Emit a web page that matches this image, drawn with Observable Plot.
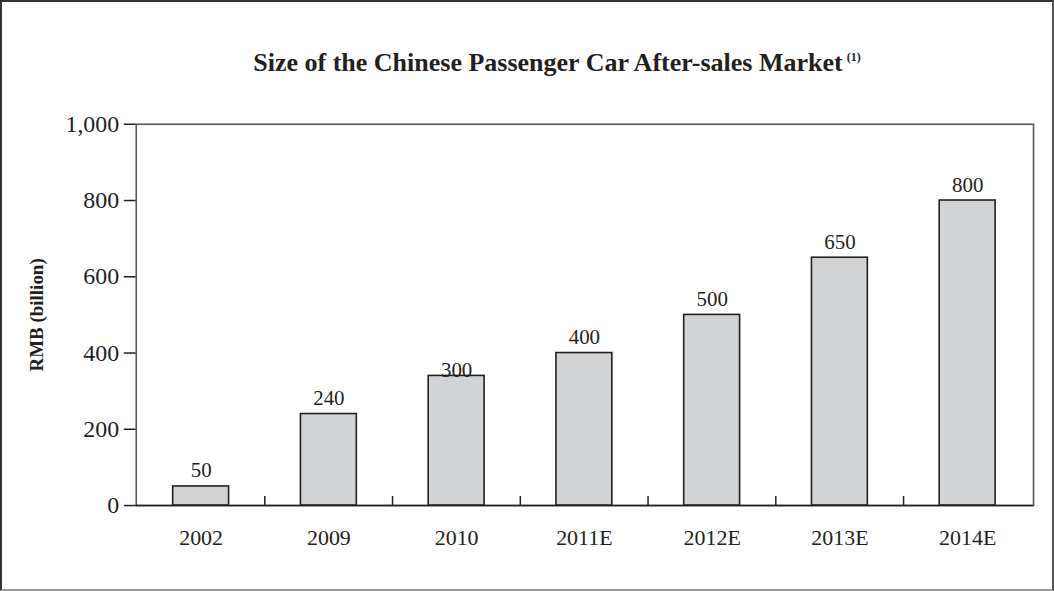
<!DOCTYPE html>
<html>
<head>
<meta charset="utf-8">
<script src="https://cdn.jsdelivr.net/npm/d3@7"></script>
<script src="https://cdn.jsdelivr.net/npm/@observablehq/plot@0.6"></script>
<style>
  html, body { margin: 0; padding: 0; background: #fff; }
  #wrap {
    position: relative; width: 1054px; height: 591px; box-sizing: border-box;
    border: 2px solid #333; border-bottom-color: #999; border-right-color: #555;
    font-family: "Liberation Serif", "Times New Roman", serif; color: #231f20;
  }
  #title {
    position: absolute; left: 0; top: 40px; width: 1054px; text-align: center;
    padding-left: 56px; box-sizing: border-box;
    font-weight: bold; font-size: 26px; white-space: nowrap; line-height: 30px;
  }
  #title sup { font-size: 12px; vertical-align: 10px; margin-left: 4px; }
  #chart { position: absolute; left: -2px; top: -2px; }
</style>
</head>
<body>
<div id="wrap">
  <div id="title">Size of the Chinese Passenger Car After-sales Market<sup>(1)</sup></div>
  <div id="chart"></div>
</div>
<script>
const categories = ["2002", "2009", "2010", "2011E", "2012E", "2013E", "2014E"];
const barValues = [50, 240, 340, 400, 500, 650, 800];
const labelTexts = ["50", "240", "300", "400", "500", "650", "800"];
const yTicks = [0, 200, 400, 600, 800, 1000];

const data = categories.map((c, i) => ({cat: c, value: barValues[i], label: labelTexts[i]}));
const W = 1054, H = 591, mL = 136, mR = 19, mT = 124, mB = 85;
const step = (W - mL - mR) / categories.length;
const ink = "#231f20";

const plot = Plot.plot({
  width: W, height: H,
  marginLeft: mL, marginRight: mR, marginTop: mT, marginBottom: mB,
  style: {fontFamily: '"Liberation Serif", "Times New Roman", serif', color: ink, background: "transparent", overflow: "visible"},
  x: {domain: categories, paddingInner: 0.56, paddingOuter: 0.28, label: null},
  y: {domain: [0, 1000], label: null},
  marks: [
    Plot.barY(data, {x: "cat", y: "value", fill: "#d1d3d4", stroke: ink, strokeWidth: 1.6}),
    Plot.tickX(categories.slice(1), {x: d => d, dx: -step / 2, stroke: ink, strokeWidth: 1.5, insetTop: (H - mT - mB) - 9}),
    Plot.text(data.filter(d => String(d.value) === d.label), {x: "cat", y: "value", text: "label", lineAnchor: "bottom", dy: -9, fontSize: 21, fill: ink}),
    Plot.text(data.filter(d => String(d.value) !== d.label), {x: "cat", y: "value", text: "label", lineAnchor: "bottom", dy: 1, fontSize: 21, fill: ink}),
    Plot.axisY({ticks: yTicks, tickFormat: d3.format(","), tickSize: 12, tickPadding: 5, fontSize: 24, stroke: ink, strokeWidth: 1.5, label: null}),
    Plot.axisX({tickSize: 0, tickPadding: 24, fontSize: 22, label: null}),
    Plot.frame({stroke: "#555", strokeWidth: 1.6}),
    Plot.ruleY([0], {stroke: ink, strokeWidth: 1.6}),
    Plot.text(["RMB (billion)"], {frameAnchor: "left", textAnchor: "middle", dx: -100, rotate: -90, fontWeight: "bold", fontSize: 19, fill: ink})
  ]
});
document.getElementById("chart").appendChild(plot);
</script>
</body>
</html>
